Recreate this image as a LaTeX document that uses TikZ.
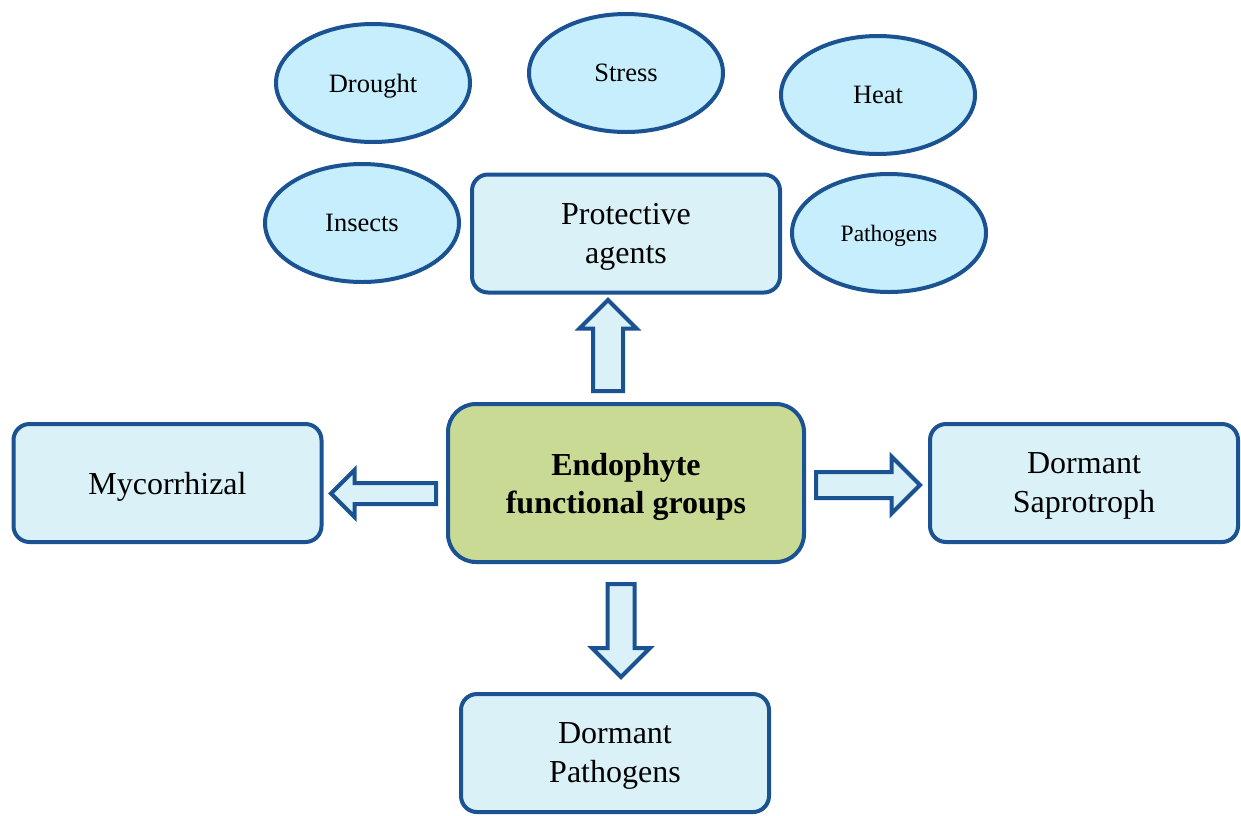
\documentclass[tikz,border=0pt]{standalone}
\usepackage{fontspec}
\setmainfont{Liberation Serif}
\usetikzlibrary{shapes.geometric,shapes.arrows}
\definecolor{edge}{HTML}{1B5392}
\definecolor{boxfill}{HTML}{DAF2F7}
\definecolor{ellfill}{HTML}{C6EEFD}
\definecolor{corefill}{HTML}{C9DA95}
\tikzset{
  oval/.style={ellipse, draw=edge, line width=4pt, fill=ellfill, minimum width=194pt, minimum height=118pt, inner sep=0pt, text depth=0pt, font=\fontsize{26.5}{30}\selectfont},
  rbox/.style={rectangle, rounded corners=16pt, draw=edge, line width=4pt, fill=boxfill, minimum width=308pt, minimum height=118pt, align=center, text depth=0pt, font=\fontsize{32}{39}\selectfont},
  corebox/.style={rbox, fill=corefill, rounded corners=28pt, minimum width=356pt, minimum height=158pt, font=\fontsize{32}{38}\selectfont\bfseries},
  harrow/.style={single arrow, draw=edge, line width=4pt, fill=boxfill, inner xsep=0pt, single arrow head indent=0pt, single arrow tip angle=90, anchor=tail},
}
\begin{document}
\begin{tikzpicture}[x=1pt,y=-1pt]
\useasboundingbox (0,0) rectangle (1241,815);
% ellipses
\node[oval] (drought) at (373,83) {Drought};
\node[oval] (stress) at (626,73) {Stress};
\node[oval] (heat) at (878,95) {Heat};
\node[oval] (insects) at (362,223) {Insects};
\node[oval, font=\fontsize{23.5}{28}\selectfont] (pathogensE) at (889,233) {Pathogens};
% boxes
\node[rbox] (protect) at (626,233.5) {Protective\\agents};
\node[corebox] (core) at (626,483) {Endophyte\\functional groups};
\node[rbox] (myco) at (167.5,483) {Mycorrhizal};
\node[rbox] (sapro) at (1084,483) {Dormant\\Saprotroph};
\node[rbox] (dpath) at (615,753) {Dormant\\Pathogens};
% hollow arrows
\node[harrow, rotate=90, minimum height=91pt, inner ysep=13pt, single arrow head extend=13.5pt] (aup) at (608,393) {};
\node[harrow, rotate=180, minimum height=105pt, inner ysep=8.5pt, single arrow head extend=13pt] (aleft) at (438,493.5) {};
\node[harrow, minimum height=104pt, inner ysep=11pt, single arrow head extend=15.5pt] (aright) at (814,485) {};
\node[harrow, rotate=-90, minimum height=93pt, inner ysep=11.5pt, single arrow head extend=15.5pt] (adown) at (621,582) {};
\end{tikzpicture}
\end{document}
